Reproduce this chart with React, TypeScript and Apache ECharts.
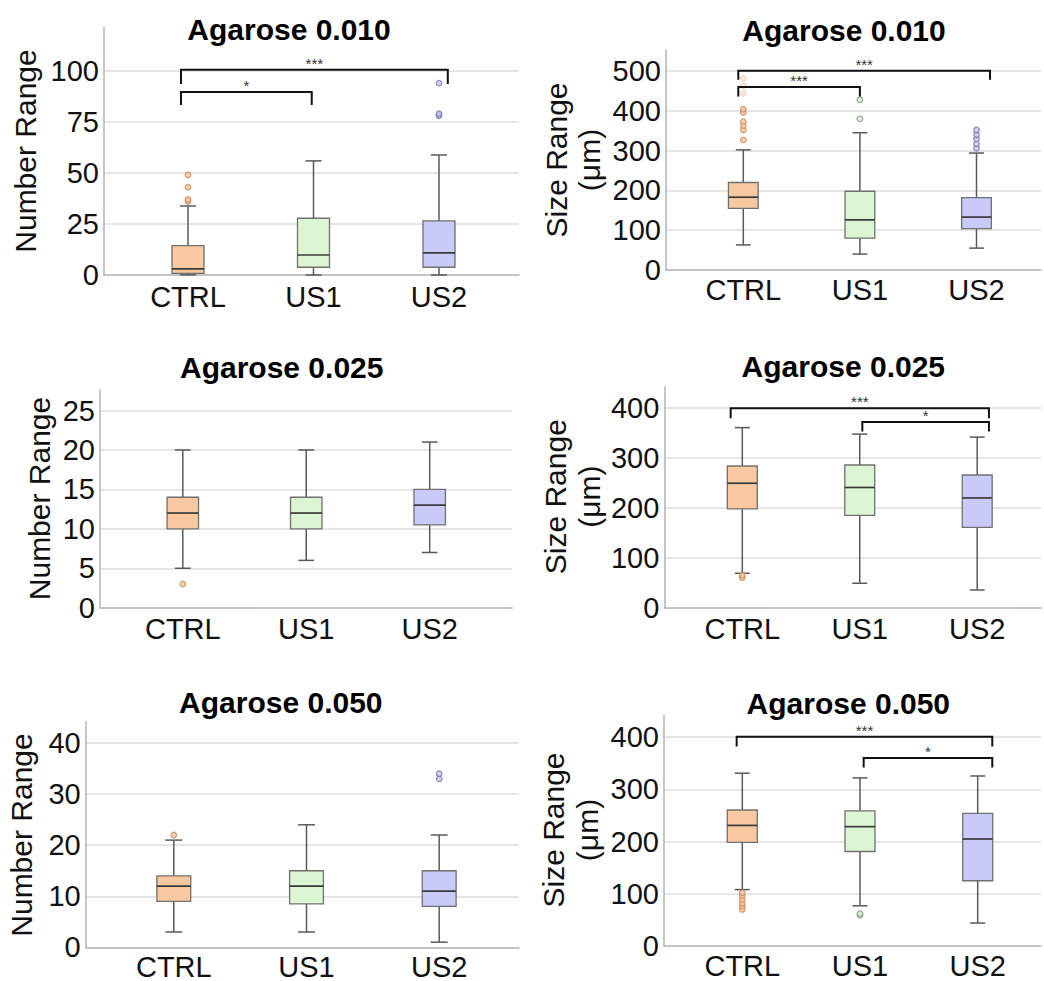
import React, { useEffect, useRef } from "react";
import * as echarts from "echarts";

const categories = ["CTRL", "US1", "US2"];

// ---- Number Range, Agarose 0.010 : [lowWhisker, q1, median, q3, highWhisker]
const num010Box = [
  [0, 0.8, 3, 14.4, 33.8],
  [0, 3.8, 9.8, 27.8, 55.9],
  [0, 3.8, 10.8, 26.5, 58.8],
];
const num010Out = [[36, 37, 43, 49], [], [78, 79, 94]];
const num010Faint: number[][] = [[], [], []];
const num010Sig = [
  [-0.056, 2.07, 100.6, 93.6],
  [-0.056, 0.986, 89.7, 83.3],
];
const num010SigLabels = ["***", "*"];
const num010Ticks = [0, 25, 50, 75, 100];

// ---- Size Range, Agarose 0.010
const size010Box = [
  [63, 155, 183, 220, 302],
  [40, 80, 126, 198, 345],
  [55, 104, 133, 182, 294],
];
const size010Out = [[327, 352, 363, 373, 396, 404], [380, 428], [306, 317, 329, 340, 352]];
const size010Faint = [[444, 463, 482], [], []];
const size010Sig = [
  [-0.043, 2.116, 501, 478],
  [-0.043, 1.0, 460, 436],
];
const size010SigLabels = ["***", "***"];
const size010Ticks = [0, 100, 200, 300, 400, 500];

// ---- Number Range, Agarose 0.025
const num025Box = [
  [5, 10, 12, 14, 20],
  [6, 10, 12, 14, 20],
  [7, 10.5, 13, 15, 21],
];
const num025Out = [[3], [], []];
const num025Faint: number[][] = [[], [], []];
const num025Sig: number[][] = [];
const num025SigLabels: string[] = [];
const num025Ticks = [0, 5, 10, 15, 20, 25];

// ---- Size Range, Agarose 0.025
const size025Box = [
  [69, 198, 249.5, 284, 361],
  [49, 185, 241, 286, 348],
  [35.5, 161, 220, 266, 342],
];
const size025Out = [[60, 65], [], []];
const size025Faint: number[][] = [[], [], []];
const size025Sig = [
  [-0.099, 2.1, 400, 380],
  [1.022, 2.1, 372, 353],
];
const size025SigLabels = ["***", "*"];
const size025Ticks = [0, 100, 200, 300, 400];

// ---- Number Range, Agarose 0.050
const num050Box = [
  [3, 9, 12, 14, 21],
  [3, 8.5, 12, 15, 24],
  [1, 8, 11, 15, 22],
];
const num050Out = [[22], [], [33, 34]];
const num050Faint: number[][] = [[], [], []];
const num050Sig: number[][] = [];
const num050SigLabels: string[] = [];
const num050Ticks = [0, 10, 20, 30, 40];

// ---- Size Range, Agarose 0.050
const size050Box = [
  [108, 198.6, 231, 260.5, 331],
  [77, 181, 228.6, 259, 322],
  [44, 125, 205, 254, 325.7],
];
const size050Out = [[70, 76, 82, 89, 96, 102], [59, 62], []];
const size050Faint: number[][] = [[], [], []];
const size050Sig = [
  [-0.048, 2.124, 401, 382],
  [1.031, 2.124, 360, 342],
];
const size050SigLabels = ["***", "*"];
const size050Ticks = [0, 100, 200, 300, 400];

const titles = ["Agarose 0.010", "Agarose 0.010", "Agarose 0.025", "Agarose 0.025", "Agarose 0.050", "Agarose 0.050"];
const numberName = ["Number Range"];
const sizeName = ["Size Range", "(μm)"];

// ---- styles / layout (pixels)
const FONT = '"Liberation Sans", Arial, Helvetica, sans-serif';
const boxFills = ["#f8c8a0", "#dcf5d3", "#c9c9fa"];
const outStroke = ["#c98a5c", "#7f947f", "#7676a8"];

const layouts = [
  { axisX: 104, right: 519, top: 27, base: 275, c0: 188, sp: 125.5, yMax: 121.5, title: [289, 29], names: [[25, 151]], labelMargin: 7 },
  { axisX: 666, right: 1041, top: 50, base: 270, c0: 743.3, sp: 116.6, yMax: 553, title: [844, 30.3], names: [[556.5, 160], [589, 160]], labelMargin: 5.5 },
  { axisX: 100, right: 512, top: 390, base: 607.7, c0: 182.8, sp: 123.45, yMax: 27.6, title: [281.7, 367], names: [[39, 498.5]], labelMargin: 6.3 },
  { axisX: 664.3, right: 1041, top: 386.7, base: 607.7, c0: 742.3, sp: 117.45, yMax: 443, title: [843.3, 366.3], names: [[555, 496.7], [589, 496.7]], labelMargin: 6.3 },
  { axisX: 85.7, right: 519, top: 721.7, base: 947.3, c0: 173.8, sp: 132.7, yMax: 44.2, title: [280.8, 702.3], names: [[21.7, 835]], labelMargin: 5 },
  { axisX: 664, right: 1041, top: 715, base: 946, c0: 742.3, sp: 117.7, yMax: 442.5, title: [848.3, 703], names: [[553.3, 830], [587.5, 830]], labelMargin: 5 },
];

const panels = [
  { box: num010Box, out: num010Out, faint: num010Faint, sig: num010Sig, sigLabels: num010SigLabels, ticks: num010Ticks, name: numberName },
  { box: size010Box, out: size010Out, faint: size010Faint, sig: size010Sig, sigLabels: size010SigLabels, ticks: size010Ticks, name: sizeName },
  { box: num025Box, out: num025Out, faint: num025Faint, sig: num025Sig, sigLabels: num025SigLabels, ticks: num025Ticks, name: numberName },
  { box: size025Box, out: size025Out, faint: size025Faint, sig: size025Sig, sigLabels: size025SigLabels, ticks: size025Ticks, name: sizeName },
  { box: num050Box, out: num050Out, faint: num050Faint, sig: num050Sig, sigLabels: num050SigLabels, ticks: num050Ticks, name: numberName },
  { box: size050Box, out: size050Out, faint: size050Faint, sig: size050Sig, sigLabels: size050SigLabels, ticks: size050Ticks, name: sizeName },
];

function buildOption() {
  const grid: any[] = [];
  const xAxis: any[] = [];
  const yAxis: any[] = [];
  const series: any[] = [];
  const graphic: any[] = [];

  panels.forEach((p, k) => {
    const L = layouts[k];
    const gA = k * 2;
    const gB = k * 2 + 1;
    grid.push({ left: L.axisX, top: L.top, width: L.right - L.axisX, height: L.base - L.top, containLabel: false });
    const bLeft = L.c0 - L.sp / 2;
    grid.push({ left: bLeft, top: L.top, width: L.sp * categories.length, height: L.base - L.top, containLabel: false });

    xAxis.push({
      type: "value",
      gridIndex: gA,
      min: -(L.c0 - L.axisX) / L.sp,
      max: (L.right - L.c0) / L.sp,
      axisLine: { show: true, onZero: false, lineStyle: { color: "#b3b3b3", width: 1.5 } },
      axisTick: { show: false },
      axisLabel: { show: false },
      splitLine: { show: false },
    });
    xAxis.push({
      type: "category",
      gridIndex: gB,
      data: categories,
      axisLine: { show: false },
      axisTick: { show: false },
      axisLabel: { show: true, fontSize: 29, color: "#111", fontFamily: FONT, margin: L.labelMargin },
      splitLine: { show: false },
    });
    const interval = p.ticks[1] - p.ticks[0];
    yAxis.push({
      type: "value",
      gridIndex: gA,
      min: p.ticks[0],
      max: L.yMax,
      interval,
      axisLine: { show: true, onZero: false, lineStyle: { color: "#b3b3b3", width: 1.5 } },
      axisTick: { show: false },
      axisLabel: { show: true, fontSize: 29, color: "#111", fontFamily: FONT, margin: 5, showMaxLabel: false },
      splitLine: { show: true, showMinLine: false, showMaxLine: false, lineStyle: { color: "#dcdcdc", width: 1.5 } },
    });
    yAxis.push({ type: "value", gridIndex: gB, min: 0, max: 1, show: false });

    series.push({
      type: "custom",
      xAxisIndex: gA,
      yAxisIndex: gA,
      z: 3,
      data: p.box.map((b, i) => [i, ...b]),
      renderItem: (params: any, api: any) => {
        const i = api.value(0);
        const lo = api.value(1), q1 = api.value(2), med = api.value(3), q3 = api.value(4), hi = api.value(5);
        const band = api.size([1, 0])[0];
        const w = band * 0.255;
        const cw = w / 2;
        const pLo = api.coord([i, lo]);
        const pQ1 = api.coord([i, q1]);
        const pMed = api.coord([i, med]);
        const pQ3 = api.coord([i, q3]);
        const pHi = api.coord([i, hi]);
        const x = pLo[0];
        const ws = { stroke: "#5a5a5a", lineWidth: 1.5 };
        return {
          type: "group",
          children: [
            { type: "line", shape: { x1: x, y1: pHi[1], x2: x, y2: pQ3[1] }, style: ws },
            { type: "line", shape: { x1: x, y1: pQ1[1], x2: x, y2: pLo[1] }, style: ws },
            { type: "line", shape: { x1: x - cw / 2, y1: pHi[1], x2: x + cw / 2, y2: pHi[1] }, style: ws },
            { type: "line", shape: { x1: x - cw / 2, y1: pLo[1], x2: x + cw / 2, y2: pLo[1] }, style: ws },
            {
              type: "rect",
              shape: { x: x - w / 2, y: pQ3[1], width: w, height: pQ1[1] - pQ3[1] },
              style: { fill: boxFills[i], stroke: "#707070", lineWidth: 1.3 },
            },
            { type: "line", shape: { x1: x - w / 2, y1: pMed[1], x2: x + w / 2, y2: pMed[1] }, style: { stroke: "#3a3a3a", lineWidth: 1.7 } },
          ],
        };
      },
    });

    const outData: any[] = [];
    p.out.forEach((vals, i) =>
      vals.forEach((v) => outData.push({ value: [i, v], itemStyle: { color: boxFills[i], borderColor: outStroke[i], borderWidth: 1.3 } }))
    );
    p.faint.forEach((vals, i) =>
      vals.forEach((v) => outData.push({ value: [i, v], itemStyle: { color: boxFills[i], borderColor: outStroke[i], borderWidth: 1, opacity: 0.35 } }))
    );
    series.push({
      type: "scatter",
      xAxisIndex: gA,
      yAxisIndex: gA,
      z: 4,
      symbol: "circle",
      symbolSize: 5.5,
      data: outData,
    });

    if (p.sig.length) {
      series.push({
        type: "custom",
        xAxisIndex: gA,
        yAxisIndex: gA,
        z: 5,
        data: p.sig,
        renderItem: (params: any, api: any) => {
          const x1 = api.value(0), x2 = api.value(1), yTop = api.value(2), yTick = api.value(3);
          const a = api.coord([x1, yTick]);
          const b = api.coord([x1, yTop]);
          const c = api.coord([x2, yTop]);
          const d = api.coord([x2, yTick]);
          const label = p.sigLabels[params.dataIndex];
          return {
            type: "group",
            children: [
              { type: "polyline", shape: { points: [a, b, c, d] }, style: { stroke: "#111", lineWidth: 2, fill: "none" } },
              {
                type: "text",
                style: {
                  text: label,
                  x: (b[0] + c[0]) / 2,
                  y: b[1] + 1,
                  fill: "#333",
                  font: `15px ${FONT}`,
                  align: "center",
                  textAlign: "center",
                  verticalAlign: "bottom",
                  textVerticalAlign: "bottom",
                },
              },
            ],
          };
        },
      });
    }

    graphic.push({
      type: "text",
      x: L.title[0],
      y: L.title[1],
      style: {
        text: titles[k],
        font: `bold 30px ${FONT}`,
        fill: "#000",
        align: "center",
        textAlign: "center",
        verticalAlign: "middle",
        textVerticalAlign: "middle",
      },
    });
    p.name.forEach((t, j) => {
      const pos = L.names[j];
      graphic.push({
        type: "text",
        x: pos[0],
        y: pos[1],
        rotation: Math.PI / 2,
        style: {
          text: t,
          font: `30px ${FONT}`,
          fill: "#111",
          align: "center",
          textAlign: "center",
          verticalAlign: "middle",
          textVerticalAlign: "middle",
        },
      });
    });
  });

  return {
    animation: false,
    backgroundColor: "#ffffff",
    grid,
    xAxis,
    yAxis,
    series,
    graphic,
  };
}

export default function App() {
  const ref = useRef<HTMLDivElement>(null);
  useEffect(() => {
    if (!ref.current) return;
    const chart = echarts.init(ref.current, undefined, { renderer: "svg" });
    chart.setOption(buildOption() as any);
    return () => chart.dispose();
  }, []);
  return (
    <div
      ref={ref}
      style={{ position: "fixed", left: 0, top: 0, width: 1044, height: 981, background: "#fff" }}
    />
  );
}
